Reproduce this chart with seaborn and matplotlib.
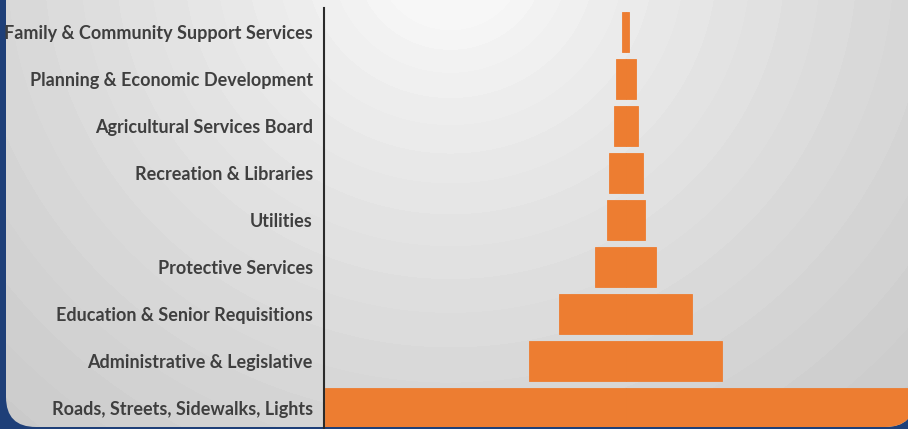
import numpy as np
import pandas as pd
import matplotlib
matplotlib.use("Agg")
import matplotlib.pyplot as plt
from matplotlib.patches import FancyBboxPatch
import seaborn as sns

# ==============================
# Data
# ==============================
departments = [
    "Family & Community Support Services",
    "Planning & Economic Development",
    "Agricultural Services Board",
    "Recreation & Libraries",
    "Utilities",
    "Protective Services",
    "Education & Senior Requisitions",
    "Administrative & Legislative",
    "Roads, Streets, Sidewalks, Lights",
]
budget = [7, 20, 24, 34, 38, 61, 133, 193, 601]

ORANGE = "#ED7D31"
NAVY = "#1E3F78"
TEXT = "#3F3F3F"

sns.set_theme(style="white")
plt.rcParams["font.family"] = ["Lato", "DejaVu Sans"]

W, H = 908, 429
fig = plt.figure(figsize=(W / 100, H / 100), dpi=100, facecolor=NAVY)

# ==============================
# Slide panel with radial gradient
# ==============================
bg = fig.add_axes([0, 0, 1, 1], zorder=0)
bg.set_xlim(0, W)
bg.set_ylim(H, 0)
bg.axis("off")

yy, xx = np.mgrid[0:H, 0:W]
r = np.hypot((xx - 450) / 1.05, yy + 40)
t = np.clip((r - 60) / 560, 0, 1.2)
shade = 248 - 45 * t ** 0.8
shade = np.round(shade / 2.5) * 2.5  # soft banding like the original
img = np.dstack([shade, shade, shade]) / 255.0
im = bg.imshow(np.clip(img, 0, 1), extent=(0, W, H, 0), aspect="auto")

panel = FancyBboxPatch((6, -60), 909, 487,
                       boxstyle="round,pad=0,rounding_size=30",
                       transform=bg.transData, facecolor="none",
                       edgecolor="none")
bg.add_patch(panel)
im.set_clip_path(panel)

# ==============================
# Funnel bars
# ==============================
df = pd.DataFrame({"department": departments, "budget": budget})
df["half"] = df["budget"] / 2

ax = fig.add_axes([324 / W, 0, (W - 324) / W, (H - 8) / H], zorder=1)
ax.set_facecolor("none")

for sign in (1, -1):
    sns.barplot(data=df.assign(v=sign * df["half"]), x="v", y="department",
                orient="h", order=departments, color=ORANGE, saturation=1,
                width=0.84, errorbar=None, edgecolor=ORANGE, linewidth=0.6,
                ax=ax)

# bars sit inside the rounded slide panel
for bar in ax.patches:
    bar.set_clip_path(panel)

ax.set_xlim(-301.5, 282.5)
ax.set_ylim(8.45, -0.51)
ax.set_xlabel("")
ax.set_ylabel("")
ax.set_xticks([])
ax.tick_params(axis="y", length=0, pad=8, labelsize=13, labelcolor=TEXT)
for lbl in ax.get_yticklabels():
    lbl.set_fontweight("bold")

for side in ("top", "right", "bottom"):
    ax.spines[side].set_visible(False)
ax.spines["left"].set_color("#2b2b2b")
ax.spines["left"].set_linewidth(1.5)

fig.savefig("out.png", dpi=100, facecolor=NAVY)
